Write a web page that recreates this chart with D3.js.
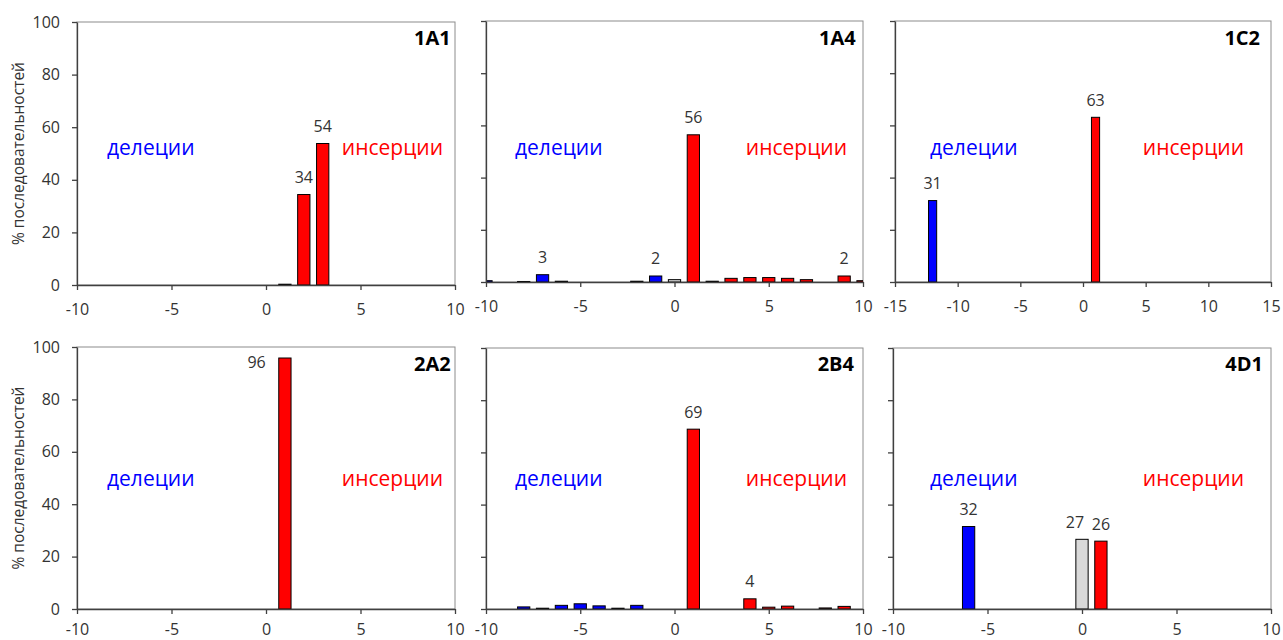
<!DOCTYPE html>
<html><head><meta charset="utf-8">
<script src="https://cdn.jsdelivr.net/npm/d3@7"></script>
<style>body{margin:0;background:#fff} svg{display:block}</style>
</head><body>
<svg id="c" width="1283" height="640"></svg>
<script>
// ---------------- data ----------------
const panelNames = ["1A1", "1A4", "1C2", "2A2", "2B4", "4D1"];
const xDomains = [[-10, 10], [-10, 10], [-15, 15], [-10, 10], [-10, 10], [-10, 10]];
const xTicks10 = [-10, -5, 0, 5, 10];
const xTicks15 = [-15, -10, -5, 0, 5, 10, 15];
const yTicks = [0, 20, 40, 60, 80, 100];
const yTitle = "% последовательностей";
const delText = "делеции";
const insText = "инсерции";

// bar positions (indel length) and values (% of sequences) for each panel
const pos1A1 = [1, 2, 3];
const val1A1 = [0.3, 34.4, 53.8];
const pos1A4 = [-10, -8, -7, -6, -2, -1, 0, 1, 2, 3, 4, 5, 6, 7, 9, 10];
const val1A4 = [0.5, 0.2, 2.8, 0.3, 0.3, 2.3, 0.9, 56.4, 0.3, 1.4, 1.7, 1.7, 1.4, 0.9, 2.3, 0.5];
const pos1C2 = [-12, 1];
const val1C2 = [31.2, 63.1];
const pos2A2 = [1];
const val2A2 = [95.8];
const pos2B4 = [-8, -7, -6, -5, -4, -3, -2, 1, 4, 5, 6, 8, 9];
const val2B4 = [0.8, 0.3, 1.4, 2.0, 1.2, 0.3, 1.4, 68.9, 3.9, 0.7, 1.1, 0.4, 1.0];
const pos4D1 = [-6, 0, 1];
const val4D1 = [31.6, 26.7, 26.0];

// data labels: bar position and text
const lab1A1 = [[2, "34"], [3, "54"]];
const lab1A4 = [[-7, "3"], [-1, "2"], [1, "56"], [9, "2"]];
const lab1C2 = [[-12, "31"], [1, "63"]];
const lab2A2 = [[1, "96"]];
const lab2B4 = [[1, "69"], [4, "4"]];
const lab4D1 = [[-6, "32"], [0, "27"], [1, "26"]];

const positions = [pos1A1, pos1A4, pos1C2, pos2A2, pos2B4, pos4D1];
const values = [val1A1, val1A4, val1C2, val2A2, val2B4, val4D1];
const labels = [lab1A1, lab1A4, lab1C2, lab2A2, lab2B4, lab4D1];

// ---------------- layout / style ----------------
const layout = [
  {l: 77, r: 455, t: 22, b: 285, xl: 29.5, title: [450.7, 45], del: [107, 155], ins: [443, 155], yLabels: true},
  {l: 486, r: 863, t: 21, b: 282, xl: 29.5, title: [855.7, 45], del: [515, 155], ins: [847, 155]},
  {l: 895, r: 1271, t: 21, b: 282, xl: 29.5, title: [1260, 45], del: [930, 155], ins: [1244, 155]},
  {l: 77, r: 455, t: 347, b: 609, xl: 26, title: [450.7, 370.5], del: [107, 486], ins: [443, 486], yLabels: true},
  {l: 486, r: 863, t: 348, b: 609, xl: 26, title: [854, 370.5], del: [515, 486], ins: [847, 486]},
  {l: 893, r: 1271, t: 348, b: 609, xl: 26, title: [1263, 370.5], del: [930, 486], ins: [1244, 486]}
];
// special label placements (pixel nudges)
const labelNudge = {"3|1": {anchor: "end", dx: -13, dy: 21.5}, "5|0": {dx: -7, dy: 0}};

const FONT = "'Open Sans', 'Noto Sans', sans-serif";
const TXT = "#333333";
const BAR_W = 0.65; // bar width in x units
const colorFor = x => x < 0 ? "#0000ff" : (x === 0 ? "#d9d9d9" : "#ff0000");

const svg = d3.select("#c");

panelNames.forEach((name, i) => {
  const L = layout[i];
  const x = d3.scaleLinear().domain(xDomains[i]).range([L.l, L.r]);
  const y = d3.scaleLinear().domain([0, 100]).range([L.b, L.t]);
  const g = svg.append("g");

  // clip
  const cid = "clip" + i;
  svg.append("clipPath").attr("id", cid).append("rect")
    .attr("x", L.l).attr("y", L.t - 2).attr("width", L.r - L.l).attr("height", L.b - L.t + 2);

  // frame (top/right)
  g.append("rect").attr("x", L.l).attr("y", L.t).attr("width", L.r - L.l).attr("height", L.b - L.t)
    .attr("fill", "none").attr("stroke", "#8c8c8c").attr("stroke-width", 1);

  // bars
  const data = positions[i].map((p, k) => ({x: p, v: values[i][k]}));
  g.append("g").attr("clip-path", `url(#${cid})`).selectAll("rect").data(data).join("rect")
    .attr("x", d => x(d.x - BAR_W / 2))
    .attr("width", d => x(d.x + BAR_W / 2) - x(d.x - BAR_W / 2))
    .attr("y", d => y(d.v))
    .attr("height", d => y(0) - y(d.v))
    .attr("fill", d => colorFor(d.x))
    .attr("stroke", "#000").attr("stroke-width", 1);

  // axes
  const fmt = d => String(d);
  const ax = g.append("g").attr("transform", `translate(0,${L.b})`)
    .call(d3.axisBottom(x).tickValues(xDomains[i][1] === 15 ? xTicks15 : xTicks10)
      .tickFormat(fmt).tickSize(5).tickSizeOuter(0));
  const ay = g.append("g").attr("transform", `translate(${L.l},0)`)
    .call(d3.axisLeft(y).tickValues(yTicks).tickFormat(fmt).tickSize(5).tickSizeOuter(0).tickPadding(12));
  [ax, ay].forEach(a => {
    a.select(".domain").attr("stroke", "#404040").attr("stroke-width", 1.3);
    a.selectAll(".tick line").attr("stroke", "#404040").attr("stroke-width", 1.3);
    a.selectAll("text").attr("fill", TXT).style("font-family", FONT).style("font-size", "16px");
  });
  ax.selectAll("text").attr("dy", null).attr("y", L.xl);
  if (!L.yLabels) ay.selectAll("text").remove();

  // y-axis title
  if (L.yLabels) {
    g.append("text")
      .attr("transform", `translate(18,${(L.t + L.b) / 2}) rotate(-90)`)
      .attr("text-anchor", "middle").attr("dominant-baseline", "central")
      .attr("fill", TXT).style("font-family", FONT).style("font-size", "15.5px")
      .text(yTitle);
  }

  // data labels
  labels[i].forEach(([px, txt]) => {
    const v = values[i][positions[i].indexOf(px)];
    const nudge = labelNudge[i + "|" + px] || {};
    let tx = x(px), ty = y(v) - 11.5, anchor = "middle";
    if (nudge.anchor === "end") { tx = x(px - BAR_W / 2); anchor = "end"; }
    g.append("text").attr("x", tx + (nudge.dx || 0)).attr("y", ty + (nudge.dy || 0))
      .attr("text-anchor", anchor).attr("fill", TXT)
      .style("font-family", FONT).style("font-size", "16px").text(txt);
  });

  // annotations
  g.append("text").attr("x", L.del[0]).attr("y", L.del[1]).attr("fill", "#0000ff")
    .style("font-family", FONT).style("font-size", "21px").text(delText);
  g.append("text").attr("x", L.ins[0]).attr("y", L.ins[1]).attr("text-anchor", "end").attr("fill", "#ff0000")
    .style("font-family", FONT).style("font-size", "21px").text(insText);

  // panel title
  g.append("text").attr("x", L.title[0]).attr("y", L.title[1]).attr("text-anchor", "end")
    .attr("fill", "#000").style("font-family", FONT).style("font-size", "20px").style("font-weight", "bold")
    .text(name);
});
</script>
</body></html>
